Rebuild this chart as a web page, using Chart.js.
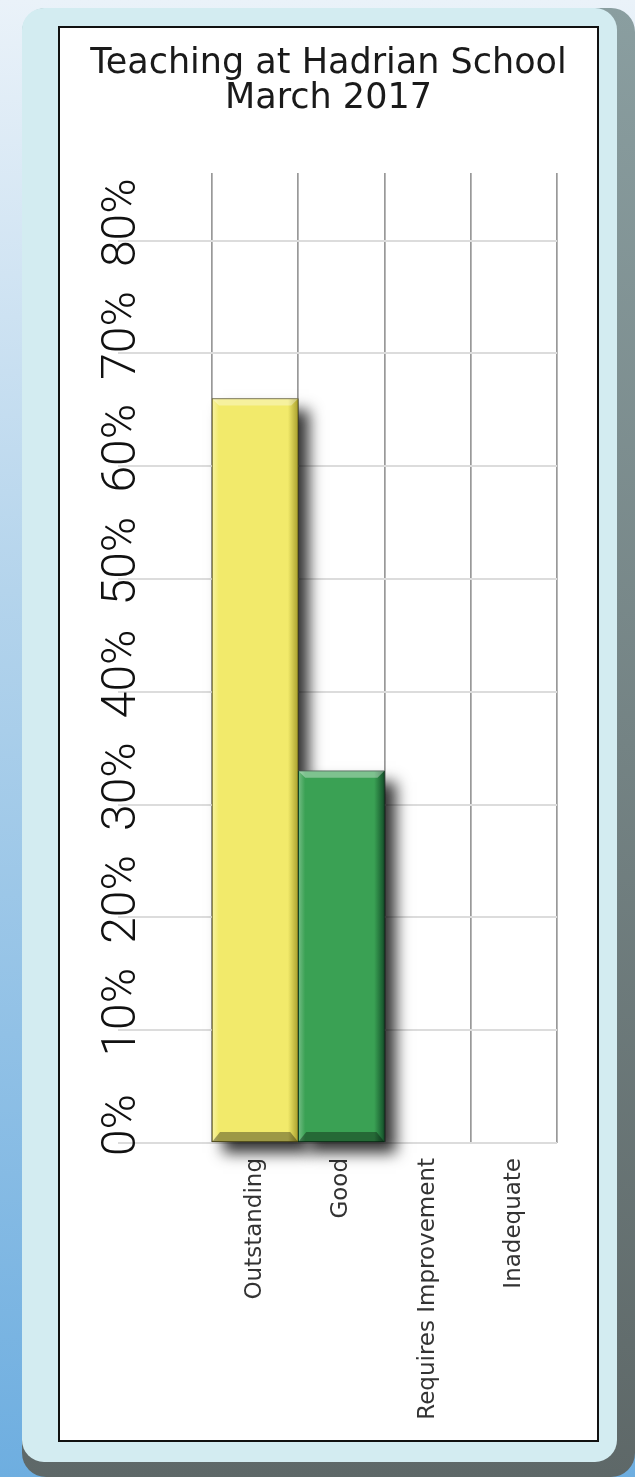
<!DOCTYPE html>
<html>
<head>
<meta charset="utf-8">
<script src="https://cdn.jsdelivr.net/npm/chart.js@4"></script>
<style>
  body { margin: 0; width: 635px; height: 1477px; position: relative; overflow: hidden;
         background: linear-gradient(#eaf2f9, #b4d4ec 40%, #6eaee0); }
  .edge { position: absolute; left: 22px; top: 8px; width: 613px; height: 1469px; border-radius: 24px;
          background: linear-gradient(#8a9ea0, #5e6868); }
  .frame { position: absolute; left: 22px; top: 8px; width: 595px; height: 1454px; border-radius: 22px;
           background: #d3ecf1; }
  .box { position: absolute; left: 58px; top: 26px; width: 541px; height: 1416px; box-sizing: border-box;
         border: 2px solid #111; background: #fff; }
  canvas { display: block; }
</style>
</head>
<body>
<div class="edge"></div>
<div class="frame"></div>
<div class="box"><canvas id="myChart" width="537" height="1412"></canvas></div>
<script>
// values (percent of lessons)
let categories = ['Outstanding', 'Good', 'Requires Improvement', 'Inadequate'];
let percents = [66, 33, 0, 0];
let yTickValues = [0, 10, 20, 30, 40, 50, 60, 70, 80];
let yTickLabels = ['0%', '10%', '20%', '30%', '40%', '50%', '60%', '70%', '80%'];
let titleLines = ['Teaching at Hadrian School', 'March 2017'];

// light / base / dark for the bevelled look
let barShades = [
    ['#f8f3a6', '#f2ea6b', '#a89f2c'],
    ['#74bd84', '#3aa154', '#14502a'],
    ['#ffffff', '#ffffff', '#ffffff'],
    ['#ffffff', '#ffffff', '#ffffff']
];

function barFill(c) {
    let chart = c.chart;
    let shade = barShades[c.dataIndex] || barShades[0];
    if (!chart.chartArea || c.dataIndex === undefined) return shade[1];
    let x = chart.scales.x;
    let mid = x.getPixelForValue(c.dataIndex);
    let half = (x.right - x.left) / categories.length / 2;
    let g = chart.ctx.createLinearGradient(mid - half, 0, mid + half, 0);
    g.addColorStop(0, shade[0]);
    g.addColorStop(0.08, shade[1]);
    g.addColorStop(0.88, shade[1]);
    g.addColorStop(1, shade[2]);
    return g;
}

// soft drop shadow behind the bars, then a light top / dark bottom band on them
let barLook = {
    id: 'barLook',
    beforeDatasetsDraw(chart) {
        let ctx = chart.ctx;
        ctx.save();
        ctx.shadowColor = 'rgba(0,0,0,0.8)';
        ctx.shadowBlur = 14;
        ctx.shadowOffsetX = 11;
        ctx.shadowOffsetY = 11;
        ctx.fillStyle = '#333';
        chart.getDatasetMeta(0).data.forEach(bar => {
            let p = bar.getProps(['x', 'y', 'base', 'width']);
            if (p.base - p.y < 2) return;
            ctx.fillRect(p.x - p.width / 2, p.y, p.width, p.base - p.y);
        });
        ctx.restore();
    },
    afterDatasetsDraw(chart) {
        let ctx = chart.ctx;
        chart.getDatasetMeta(0).data.forEach(bar => {
            let p = bar.getProps(['x', 'y', 'base', 'width']);
            if (p.base - p.y < 20) return;
            let l = p.x - p.width / 2, r = p.x + p.width / 2;
            ctx.save();
            ctx.fillStyle = 'rgba(255,255,255,0.35)';
            ctx.beginPath();
            ctx.moveTo(l, p.y); ctx.lineTo(r, p.y); ctx.lineTo(r - 7, p.y + 7); ctx.lineTo(l + 7, p.y + 7);
            ctx.fill();
            ctx.fillStyle = 'rgba(0,0,0,0.35)';
            ctx.beginPath();
            ctx.moveTo(l, p.base); ctx.lineTo(r, p.base); ctx.lineTo(r - 8, p.base - 10); ctx.lineTo(l + 8, p.base - 10);
            ctx.fill();
            ctx.restore();
        });
    }
};

let ctx = document.getElementById('myChart').getContext('2d');
let chart = new Chart(ctx, {
    type: 'bar',
    data: {
        labels: categories,
        datasets: [{
            label: 'Teaching',
            data: percents,
            backgroundColor: barFill,
            borderColor: ['#5c5618', '#0b3a1c', 'rgba(0,0,0,0)', 'rgba(0,0,0,0)'],
            borderWidth: 1,
            borderSkipped: false,
            categoryPercentage: 1,
            barPercentage: 1,
            clip: false
        }]
    },
    plugins: [barLook],
    options: {
        responsive: false,
        animation: false,
        layout: { padding: 0 },
        plugins: {
            legend: { display: false },
            tooltip: { enabled: false },
            title: {
                display: true,
                text: titleLines,
                color: '#1a1a1a',
                font: { family: 'DejaVu Sans', size: 35, weight: 'normal', lineHeight: 1 },
                padding: { top: 18, bottom: 57 }
            }
        },
        scales: {
            x: {
                grid: { color: '#999999', lineWidth: 1.7, drawTicks: false, offset: true },
                border: { display: false },
                ticks: {
                    minRotation: 90, maxRotation: 90, padding: 15, autoSkip: false,
                    color: '#333', font: { family: 'DejaVu Sans', size: 23 }
                },
                afterFit: s => { s.height = 297; }
            },
            y: {
                min: 0,
                max: 86,
                grid: { color: '#dcdcdc', tickColor: '#dcdcdc', lineWidth: 2, tickLength: 94 },
                border: { display: false },
                ticks: {
                    stepSize: 5,
                    minRotation: 90, maxRotation: 90,
                    crossAlign: 'center',
                    labelOffset: -18,
                    padding: -49,
                    color: '#111',
                    font: { family: 'Roboto', size: 48, weight: 300 },
                    callback: v => {
                        if (v > 80) return null;
                        let i = yTickValues.indexOf(v);
                        return i >= 0 ? yTickLabels[i] : '';
                    }
                },
                afterFit: s => { s.width = 152; }
            },
            // empty right-hand margin so the title can stay centred on the whole box
            yRight: {
                position: 'right',
                grid: { display: false },
                border: { display: false },
                ticks: { display: false },
                afterFit: s => { s.width = 40; }
            }
        }
    }
});
</script>
</body>
</html>
